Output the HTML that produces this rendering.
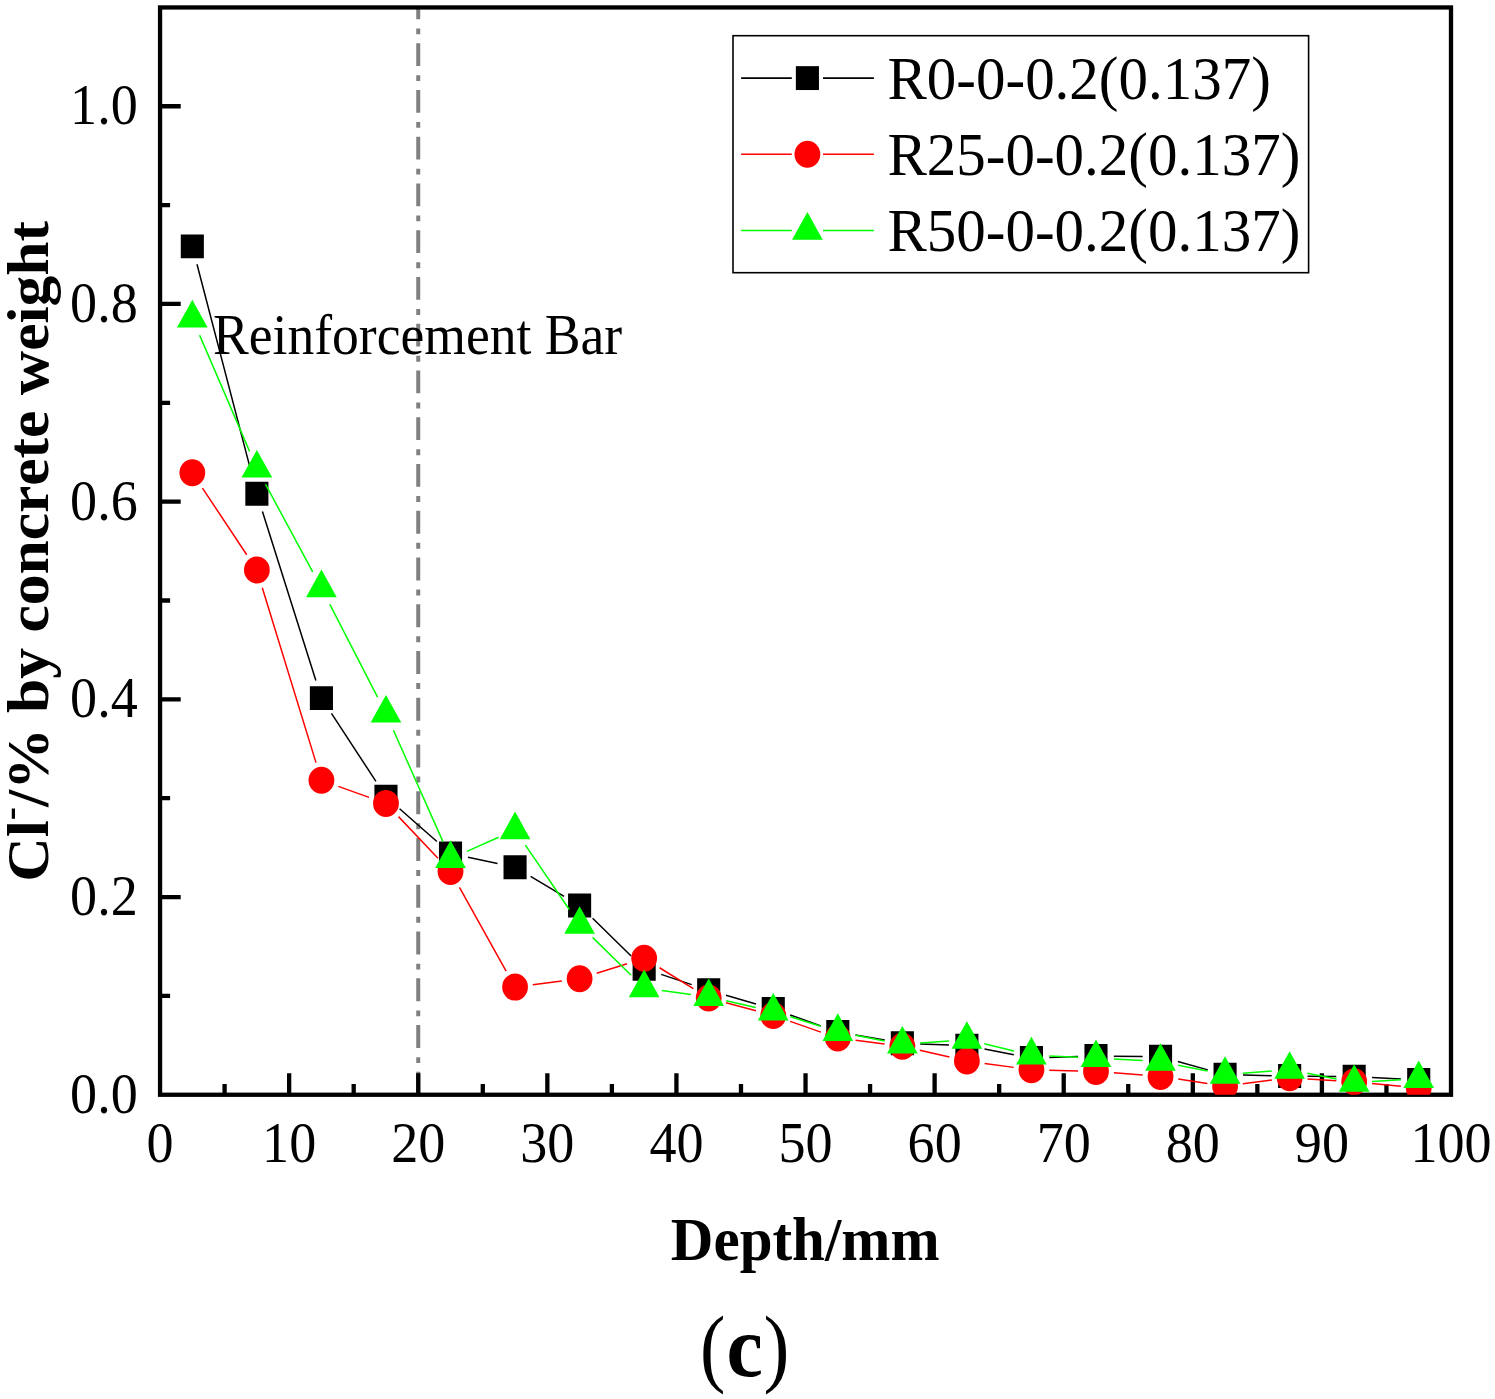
<!DOCTYPE html>
<html lang="en"><head><meta charset="utf-8"><title>Chloride profile (c)</title>
<style>html,body{margin:0;padding:0;background:#fff}body{width:1495px;height:1399px;overflow:hidden}svg{display:block}text{font-family:"Liberation Serif","Times New Roman",serif;fill:#000;font-kerning:none}.tk{font-size:54.1px}.an{font-size:53.6px}.lg{font-size:59px}.ti{font-size:59px;font-weight:bold}</style></head><body>
<svg width="1495" height="1399" viewBox="0 0 1495 1399">
<rect width="1495" height="1399" fill="#fff"/>
<defs><clipPath id="plot"><rect x="160.05" y="7.45" width="1290.95" height="1087.3"/></clipPath></defs>
<path d="M418.24 1094.75V7.45" stroke="#808080" stroke-width="4" stroke-dasharray="22.9 8.8 5.9 9.16" fill="none"/>
<rect x="160.05" y="7.45" width="1290.95" height="1087.3" fill="none" stroke="#000" stroke-width="4.3"/>
<path d="M224.6 1094.75v-10.65M289.14 1094.75v-21.45M353.69 1094.75v-10.65M418.24 1094.75v-21.45M482.79 1094.75v-10.65M547.34 1094.75v-21.45M611.88 1094.75v-10.65M676.43 1094.75v-21.45M740.98 1094.75v-10.65M805.53 1094.75v-21.45M870.07 1094.75v-10.65M934.62 1094.75v-21.45M999.17 1094.75v-10.65M1063.71 1094.75v-21.45M1128.26 1094.75v-10.65M1192.81 1094.75v-21.45M1257.36 1094.75v-10.65M1321.9 1094.75v-21.45M1386.45 1094.75v-10.65M160.05 995.9h10.05M160.05 897.05h20.65M160.05 798.2h10.05M160.05 699.35h20.65M160.05 600.5h10.05M160.05 501.65h20.65M160.05 402.8h10.05M160.05 303.95h20.65M160.05 205.1h10.05M160.05 106.25h20.65" stroke="#000" stroke-width="4.3" fill="none"/>
<text class="tk" text-anchor="middle" transform="translate(160.05 1161.9) scale(1 1.06)">0</text>
<text class="tk" text-anchor="middle" transform="translate(289.14 1161.9) scale(1 1.06)">10</text>
<text class="tk" text-anchor="middle" transform="translate(418.24 1161.9) scale(1 1.06)">20</text>
<text class="tk" text-anchor="middle" transform="translate(547.34 1161.9) scale(1 1.06)">30</text>
<text class="tk" text-anchor="middle" transform="translate(676.43 1161.9) scale(1 1.06)">40</text>
<text class="tk" text-anchor="middle" transform="translate(805.53 1161.9) scale(1 1.06)">50</text>
<text class="tk" text-anchor="middle" transform="translate(934.62 1161.9) scale(1 1.06)">60</text>
<text class="tk" text-anchor="middle" transform="translate(1063.71 1161.9) scale(1 1.06)">70</text>
<text class="tk" text-anchor="middle" transform="translate(1192.81 1161.9) scale(1 1.06)">80</text>
<text class="tk" text-anchor="middle" transform="translate(1321.9 1161.9) scale(1 1.06)">90</text>
<text class="tk" text-anchor="middle" transform="translate(1451 1161.9) scale(1 1.06)">100</text>
<text class="tk" text-anchor="end" transform="translate(137.7 1112.65) scale(1 1.06)">0.0</text>
<text class="tk" text-anchor="end" transform="translate(137.7 914.95) scale(1 1.06)">0.2</text>
<text class="tk" text-anchor="end" transform="translate(137.7 717.25) scale(1 1.06)">0.4</text>
<text class="tk" text-anchor="end" transform="translate(137.7 519.55) scale(1 1.06)">0.6</text>
<text class="tk" text-anchor="end" transform="translate(137.7 321.85) scale(1 1.06)">0.8</text>
<text class="tk" text-anchor="end" transform="translate(137.7 124.15) scale(1 1.06)">1.0</text>
<text class="an" text-anchor="start" transform="translate(213 354.2) scale(1 1.05)">Reinforcement Bar</text>
<g clip-path="url(#plot)">
<path d="M196.99 264.29L252.2 475.91M262.43 511.41L315.86 680.49M331.46 713.44L375.93 781.36M399.6 808.7L436.88 841.5M468.05 857.22L497.53 863.48M530.59 876.41L564.08 896.29M592.61 918.23L631.15 955.97M661.19 974.4L691.67 984.6M725.95 995.27L756.01 1003.93M790.18 1014.93L820.87 1025.87M855.45 1034.99L884.7 1040.11M920.23 1043.89L949.01 1045.01M984.5 1049.05L1013.84 1054.65M1049.33 1057.45L1078.1 1056.55M1113.89 1056.19L1142.64 1056.51M1177.82 1061.52L1207.8 1069.88M1242.98 1075.06L1271.73 1075.64M1307.53 1076.19L1336.28 1076.51M1372.06 1077.59L1400.85 1079.01" stroke="#000" stroke-width="1.5" fill="none"/>
<path d="M180.77 234.45h23.1v23.9h-23.1zM245.32 481.85h23.1v23.9h-23.1zM309.87 686.15h23.1v23.9h-23.1zM374.42 784.75h23.1v23.9h-23.1zM438.96 841.55h23.1v23.9h-23.1zM503.51 855.25h23.1v23.9h-23.1zM568.06 893.55h23.1v23.9h-23.1zM632.61 956.75h23.1v23.9h-23.1zM697.15 978.35h23.1v23.9h-23.1zM761.7 996.95h23.1v23.9h-23.1zM826.25 1019.95h23.1v23.9h-23.1zM890.8 1031.25h23.1v23.9h-23.1zM955.34 1033.75h23.1v23.9h-23.1zM1019.89 1046.05h23.1v23.9h-23.1zM1084.44 1044.05h23.1v23.9h-23.1zM1148.99 1044.75h23.1v23.9h-23.1zM1213.53 1062.75h23.1v23.9h-23.1zM1278.08 1064.05h23.1v23.9h-23.1zM1342.63 1064.75h23.1v23.9h-23.1zM1407.18 1067.95h23.1v23.9h-23.1z" fill="#000"/>
<path d="M202.46 488.07L246.73 554.73M262.29 587.66L316 762.64M338.34 786.35L369.05 797.35M398.51 816.62L437.97 858.18M459.46 887.44L506.11 971.06M532.82 984.79L561.85 981.01M596.73 973.29L627.04 963.71M659.54 967.76L693.32 988.54M726.02 1002.69L755.94 1010.81M790.21 1021.41L820.84 1032.09M855.56 1040.28L884.58 1044.02M919.83 1050.28L949.41 1057.02M984.64 1063.42L1013.69 1067.38M1049.34 1070.24L1078.09 1070.96M1113.84 1072.81L1142.69 1075.09M1178.26 1079.11L1207.36 1083.39M1242.85 1083.74L1271.86 1080.06M1307.5 1078.91L1336.31 1080.69M1372 1083.51L1400.9 1086.29" stroke="#f00" stroke-width="1.5" fill="none"/>
<g fill="#f00"><ellipse cx="192.32" cy="472.8" rx="12.9" ry="13.5"/><ellipse cx="256.87" cy="570" rx="12.9" ry="13.5"/><ellipse cx="321.42" cy="780.3" rx="12.9" ry="13.5"/><ellipse cx="385.97" cy="803.4" rx="12.9" ry="13.5"/><ellipse cx="450.51" cy="871.4" rx="12.9" ry="13.5"/><ellipse cx="515.06" cy="987.1" rx="12.9" ry="13.5"/><ellipse cx="579.61" cy="978.7" rx="12.9" ry="13.5"/><ellipse cx="644.16" cy="958.3" rx="12.9" ry="13.5"/><ellipse cx="708.7" cy="998" rx="12.9" ry="13.5"/><ellipse cx="773.25" cy="1015.5" rx="12.9" ry="13.5"/><ellipse cx="837.8" cy="1038" rx="12.9" ry="13.5"/><ellipse cx="902.35" cy="1046.3" rx="12.9" ry="13.5"/><ellipse cx="966.89" cy="1061" rx="12.9" ry="13.5"/><ellipse cx="1031.44" cy="1069.8" rx="12.9" ry="13.5"/><ellipse cx="1095.99" cy="1071.4" rx="12.9" ry="13.5"/><ellipse cx="1160.54" cy="1076.5" rx="12.9" ry="13.5"/><ellipse cx="1225.08" cy="1086" rx="12.9" ry="13.5"/><ellipse cx="1289.63" cy="1077.8" rx="12.9" ry="13.5"/><ellipse cx="1354.18" cy="1081.8" rx="12.9" ry="13.5"/><ellipse cx="1418.73" cy="1088" rx="12.9" ry="13.5"/></g>
<path d="M199.6 335.13L249.59 451.37M265.59 484.48L312.7 571.82M329.84 604.35L377.55 697.05M393.44 730.23L443.04 841.87M466.96 851.39L498.61 837.31M525.39 845.13L569.28 909.47M592.59 937.35L631.17 975.25M661.9 990.45L690.96 994.45M726.2 1000.8L755.75 1007.4M790.37 1016.71L820.68 1026.29M855.38 1035.16L884.76 1040.94M920.2 1043.07L949.04 1040.93M984.32 1043.81L1014.01 1050.99M1049.33 1055.95L1078.1 1057.15M1113.86 1058.92L1142.66 1060.58M1178.11 1065.14L1207.51 1071.06M1242.93 1073.22L1271.78 1070.98M1307.2 1073.14L1336.61 1079.06M1372.05 1081.55L1400.86 1079.85" stroke="#0f0" stroke-width="1.5" fill="none"/>
<path d="M192.32 299.8L207.67 327.4L176.97 327.4zM256.87 449.9L272.22 477.5L241.52 477.5zM321.42 569.6L336.77 597.2L306.07 597.2zM385.97 695L401.32 722.6L370.62 722.6zM450.51 840.3L465.86 867.9L435.16 867.9zM515.06 811.6L530.41 839.2L499.71 839.2zM579.61 906.2L594.96 933.8L564.26 933.8zM644.16 969.6L659.51 997.2L628.81 997.2zM708.7 978.5L724.05 1006.1L693.35 1006.1zM773.25 992.9L788.6 1020.5L757.9 1020.5zM837.8 1013.3L853.15 1040.9L822.45 1040.9zM902.35 1026L917.7 1053.6L887 1053.6zM966.89 1021.2L982.24 1048.8L951.54 1048.8zM1031.44 1036.8L1046.79 1064.4L1016.09 1064.4zM1095.99 1039.5L1111.34 1067.1L1080.64 1067.1zM1160.54 1043.2L1175.89 1070.8L1145.19 1070.8zM1225.08 1056.2L1240.43 1083.8L1209.73 1083.8zM1289.63 1051.2L1304.98 1078.8L1274.28 1078.8zM1354.18 1064.2L1369.53 1091.8L1338.83 1091.8zM1418.73 1060.4L1434.08 1088L1403.38 1088z" fill="#0f0"/>
</g>
<rect x="733" y="35.7" width="575.6" height="237" fill="#fff" stroke="#000" stroke-width="1.6"/>
<path d="M741.1 78.1H791.8M823 78.1H873.9" stroke="#000" stroke-width="1.6" fill="none"/>
<path d="M795.85 66.15h23.1v23.9h-23.1z" fill="#000"/>
<text class="lg" text-anchor="start" transform="translate(887.5 99) scale(1 1.05)">R0-0-0.2(0.137)</text>
<path d="M741.1 154.2H791.8M823 154.2H873.9" stroke="#f00" stroke-width="1.6" fill="none"/>
<ellipse cx="807.4" cy="154.2" rx="12.9" ry="13.5" fill="#f00"/>
<text class="lg" text-anchor="start" transform="translate(887.5 175.1) scale(1 1.05)">R25-0-0.2(0.137)</text>
<path d="M741.1 230.5H791.8M823 230.5H873.9" stroke="#0f0" stroke-width="1.6" fill="none"/>
<path d="M807.4 212.1L822.75 239.7L792.05 239.7z" fill="#0f0"/>
<text class="lg" text-anchor="start" transform="translate(887.5 251.4) scale(1 1.05)">R50-0-0.2(0.137)</text>
<text class="ti" text-anchor="middle" transform="translate(805.2 1260) scale(1 1.035)">Depth/mm</text>
<text class="ti" text-anchor="middle" transform="translate(48.1 551.3) scale(1 1.043) rotate(-90)">Cl<tspan font-size="38" dy="-26">-</tspan><tspan dy="26">/% by concrete weight</tspan></text>
<g style="font-size:100px;font-weight:bold"><text font-weight="normal" transform="translate(699.9 1376.1) scale(0.762 0.86)">(</text><text transform="translate(726.6 1376.1) scale(0.82 0.865)">c</text><text font-weight="normal" transform="translate(763.5 1376.1) scale(0.777 0.86)">)</text></g>
</svg></body></html>
